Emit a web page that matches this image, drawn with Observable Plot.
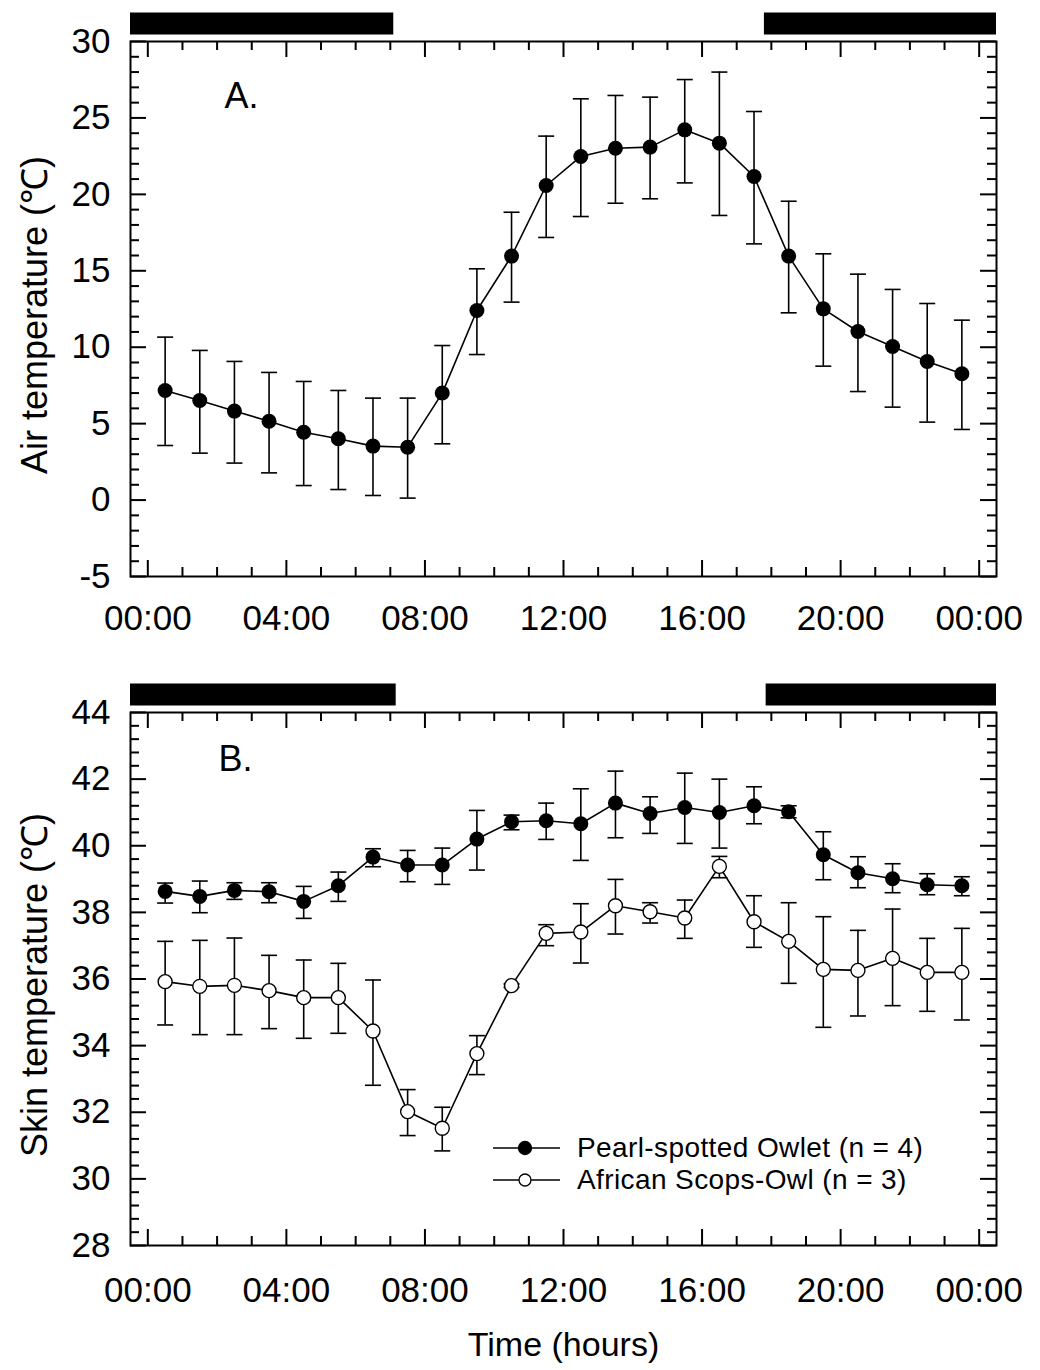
<!DOCTYPE html>
<html>
<head>
<meta charset="utf-8">
<script src="https://cdn.jsdelivr.net/npm/d3@7"></script>
<script src="https://cdn.jsdelivr.net/npm/@observablehq/plot@0.6"></script>
<style>
  body { margin: 0; background: #fff; }
  #wrap { position: relative; width: 1040px; height: 1370px; font-family: "Liberation Sans", Arial, sans-serif; color: #000; }
  #wrap > svg { display: block; }
  .leg { position: absolute; font-size: 28px; letter-spacing: 0.4px; line-height: 30px; white-space: nowrap; }
  .legsym { position: absolute; }
</style>
</head>
<body>
<div id="wrap"></div>
<script>
// ---- Data ----
const hours = [0.5, 1.5, 2.5, 3.5, 4.5, 5.5, 6.5, 7.5, 8.5, 9.5, 10.5, 11.5, 12.5, 13.5, 14.5, 15.5, 16.5, 17.5, 18.5, 19.5, 20.5, 21.5, 22.5, 23.5];

// Panel A: air temperature (mean, upper and lower error bar ends)
const airMean = [7.17, 6.51, 5.82, 5.16, 4.44, 4.01, 3.53, 3.46, 7.0, 12.4, 15.96, 20.58, 22.48, 23.02, 23.09, 24.22, 23.35, 21.17, 15.96, 12.51, 11.03, 10.05, 9.07, 8.26];
const airHigh = [10.66, 9.79, 9.07, 8.35, 7.76, 7.17, 6.67, 6.67, 10.11, 15.13, 18.83, 23.81, 26.25, 26.47, 26.36, 27.51, 28.0, 25.42, 19.55, 16.11, 14.78, 13.78, 12.86, 11.77];
const airLow  = [3.57, 3.07, 2.42, 1.78, 0.95, 0.69, 0.30, 0.13, 3.68, 9.52, 12.95, 17.18, 18.55, 19.42, 19.71, 20.75, 18.62, 16.76, 12.25, 8.76, 7.1, 6.08, 5.1, 4.62];

// Panel B: skin temperature, Pearl-spotted Owlet
const owletMean = [38.63, 38.48, 38.66, 38.62, 38.33, 38.8, 39.66, 39.42, 39.42, 40.2, 40.72, 40.75, 40.66, 41.28, 40.97, 41.15, 41.0, 41.2, 41.02, 39.73, 39.19, 39.01, 38.83, 38.8];
const owletHigh = [38.88, 38.94, 38.89, 38.89, 38.78, 39.21, 39.91, 39.86, 39.93, 41.06, 40.92, 41.28, 41.71, 42.24, 41.47, 42.18, 42.0, 41.77, 41.2, 40.42, 39.67, 39.46, 39.16, 39.07];
const owletLow  = [38.28, 37.99, 38.39, 38.29, 37.82, 38.33, 39.37, 38.92, 38.84, 39.27, 40.48, 40.19, 39.56, 40.24, 40.37, 40.07, 39.93, 40.66, 40.84, 38.98, 38.74, 38.59, 38.53, 38.5];

// Panel B: skin temperature, African Scops-Owl
const scopsMean = [35.92, 35.78, 35.81, 35.65, 35.44, 35.44, 34.44, 32.02, 31.52, 33.76, 35.8, 37.37, 37.41, 38.2, 38.02, 37.83, 39.38, 37.72, 37.13, 36.29, 36.26, 36.62, 36.2, 36.2];
const scopsHigh = [37.13, 37.16, 37.23, 36.71, 36.57, 36.47, 35.97, 32.68, 32.15, 34.3, 35.85, 37.63, 38.26, 38.99, 38.29, 38.37, 39.68, 38.5, 38.29, 37.87, 37.46, 38.1, 37.22, 37.52];
const scopsLow  = [34.62, 34.33, 34.33, 34.51, 34.22, 34.37, 32.81, 31.3, 30.84, 33.13, 35.75, 37.0, 36.48, 37.35, 37.68, 37.22, 39.04, 36.95, 35.87, 34.55, 34.89, 35.2, 35.03, 34.77];

// Dark periods (hours) shown as black bars above each panel
const darkA = [{start: -0.5, end: 7.1}, {start: 17.8, end: 24.5}];
const darkB = [{start: -0.5, end: 7.17}, {start: 17.85, end: 24.5}];

// Tick values
const xMajor = [0, 4, 8, 12, 16, 20, 24];
const xMinor = [1, 2, 3, 5, 6, 7, 9, 10, 11, 13, 14, 15, 17, 18, 19, 21, 22, 23];
const xLabels = ["00:00", "04:00", "08:00", "12:00", "16:00", "20:00", "00:00"];
const yMajorA = [-5, 0, 5, 10, 15, 20, 25, 30];
const yMinorA = [-4, -3, -2, -1, 1, 2, 3, 4, 6, 7, 8, 9, 11, 12, 13, 14, 16, 17, 18, 19, 21, 22, 23, 24, 26, 27, 28, 29];
const yMajorB = [28, 30, 32, 34, 36, 38, 40, 42, 44];
const yMinorB = [28.4, 28.8, 29.2, 29.6, 30.4, 30.8, 31.2, 31.6, 32.4, 32.8, 33.2, 33.6, 34.4, 34.8, 35.2, 35.6, 36.4, 36.8, 37.2, 37.6, 38.4, 38.8, 39.2, 39.6, 40.4, 40.8, 41.2, 41.6, 42.4, 42.8, 43.2, 43.6];

const series = (m, lo, hi) => hours.map((h, i) => ({hour: h, mean: m[i], low: lo[i], high: hi[i]}));
const airRows = series(airMean, airLow, airHigh);
const owletRows = series(owletMean, owletLow, owletHigh);
const scopsRows = series(scopsMean, scopsLow, scopsHigh);

// ---- Drawing ----
const W = 1040, ML = 130, MR = 44;
const FW = W - ML - MR;
const capSymbol = {draw(ctx, size) { const w = Math.sqrt(size / Math.PI); ctx.moveTo(-w, 0); ctx.lineTo(w, 0); }};

function frameTicks(FH, yMajor, yMinor) {
  const s = {stroke: "black", strokeWidth: 2};
  const out = [];
  for (const [vals, len] of [[xMajor, 16], [xMinor, 9]]) {
    out.push(Plot.tickX(vals, {x: d => d, insetTop: FH - len, ...s}));
    out.push(Plot.tickX(vals, {x: d => d, insetBottom: FH - len, ...s}));
  }
  for (const [vals, len] of [[yMajor, 16], [yMinor, 9]]) {
    out.push(Plot.tickY(vals, {y: d => d, insetRight: FW - len, ...s}));
    out.push(Plot.tickY(vals, {y: d => d, insetLeft: FW - len, ...s}));
  }
  return out;
}

function seriesMarks(rows, filled) {
  return [
    Plot.ruleX(rows, {x: "hour", y1: "low", y2: "high", stroke: "black", strokeWidth: 1.6}),
    Plot.dot(rows, {x: "hour", y: "high", symbol: capSymbol, r: 8, stroke: "black", strokeWidth: 1.6, fill: "none"}),
    Plot.dot(rows, {x: "hour", y: "low", symbol: capSymbol, r: 8, stroke: "black", strokeWidth: 1.6, fill: "none"}),
    Plot.line(rows, {x: "hour", y: "mean", stroke: "black", strokeWidth: 1.6}),
    filled
      ? Plot.dot(rows, {x: "hour", y: "mean", r: 7.5, fill: "black", stroke: "none"})
      : Plot.dot(rows, {x: "hour", y: "mean", r: 7, fill: "white", stroke: "black", strokeWidth: 1.4})
  ];
}

function panel({height, marginTop, marginBottom, yDomain, yMajor, yMinor, yLabel, letter, letterDx, letterDy, dark, data, extra = [], xPad}) {
  const FH = height - marginTop - marginBottom;
  return Plot.plot({
    width: W, height, marginLeft: ML, marginRight: MR, marginTop, marginBottom,
    style: {fontFamily: '"Liberation Sans", Arial, sans-serif', fontSize: "35px", color: "black", background: "white", overflow: "visible"},
    x: {domain: [-0.5, 24.5]},
    y: {domain: yDomain},
    marks: [
      Plot.frame({stroke: "black", strokeWidth: 2}),
      ...frameTicks(FH, yMajor, yMinor),
      Plot.axisX({ticks: xMajor, tickSize: 0, tickPadding: xPad, tickFormat: d => xLabels[xMajor.indexOf(d)], fontSize: 35, label: null}),
      Plot.axisY({ticks: yMajor, tickSize: 0, tickPadding: 20, tickFormat: d => String(d), fontSize: 35, label: null}),
      Plot.ruleY(dark, {y: () => yDomain[1], x1: "start", x2: "end", stroke: "black", strokeWidth: 22, dy: -18}),
      Plot.text([yLabel], {frameAnchor: "left", text: d => d, rotate: -90, textAnchor: "middle", lineAnchor: "middle", dx: -95, dy: 6, fontSize: 36}),
      Plot.text([letter], {frameAnchor: "top-left", text: d => d, textAnchor: "start", lineAnchor: "top", dx: letterDx, dy: letterDy, fontSize: 36}),
      ...data.flatMap(([rows, filled]) => seriesMarks(rows, filled)),
      ...extra
    ]
  });
}

const wrap = document.getElementById("wrap");

const plotA = panel({
  height: 636, marginTop: 41, marginBottom: 60,
  yDomain: [-5, 30], yMajor: yMajorA, yMinor: yMinorA,
  yLabel: "Air temperature (℃)", letter: "A.", letterDx: 94, letterDy: 41,
  dark: darkA, data: [[airRows, true]], xPad: 29
});
wrap.appendChild(plotA);

const plotB = panel({
  height: 734, marginTop: 76, marginBottom: 125,
  yDomain: [28, 44], yMajor: yMajorB, yMinor: yMinorB,
  yLabel: "Skin temperature (℃)", letter: "B.", letterDx: 88, letterDy: 33,
  dark: darkB, data: [[owletRows, true], [scopsRows, false]], xPad: 32,
  extra: [Plot.text(["Time (hours)"], {frameAnchor: "bottom", text: d => d, dy: 100, lineAnchor: "middle", fontSize: 34})]
});
wrap.appendChild(plotB);

// ---- Legend (inside panel B) ----
const legendItems = [
  {label: "Pearl-spotted Owlet (n = 4)", filled: true, cy: 1148},
  {label: "African Scops-Owl (n = 3)", filled: false, cy: 1180}
];
for (const it of legendItems) {
  const ns = "http://www.w3.org/2000/svg";
  const svg = document.createElementNS(ns, "svg");
  svg.setAttribute("width", 80); svg.setAttribute("height", 30);
  svg.setAttribute("class", "legsym");
  svg.style.left = "490px"; svg.style.top = (it.cy - 15) + "px";
  const line = document.createElementNS(ns, "line");
  line.setAttribute("x1", 3); line.setAttribute("x2", 70); line.setAttribute("y1", 15); line.setAttribute("y2", 15);
  line.setAttribute("stroke", "black"); line.setAttribute("stroke-width", 1.6);
  const c = document.createElementNS(ns, "circle");
  c.setAttribute("cx", 35); c.setAttribute("cy", 15); c.setAttribute("r", it.filled ? 6.5 : 6);
  c.setAttribute("fill", it.filled ? "black" : "white"); c.setAttribute("stroke", "black"); c.setAttribute("stroke-width", 1.3);
  svg.appendChild(line); svg.appendChild(c);
  wrap.appendChild(svg);
  const t = document.createElement("div");
  t.className = "leg"; t.textContent = it.label;
  t.style.left = "577px"; t.style.top = (it.cy - 15) + "px";
  wrap.appendChild(t);
}
</script>
</body>
</html>
